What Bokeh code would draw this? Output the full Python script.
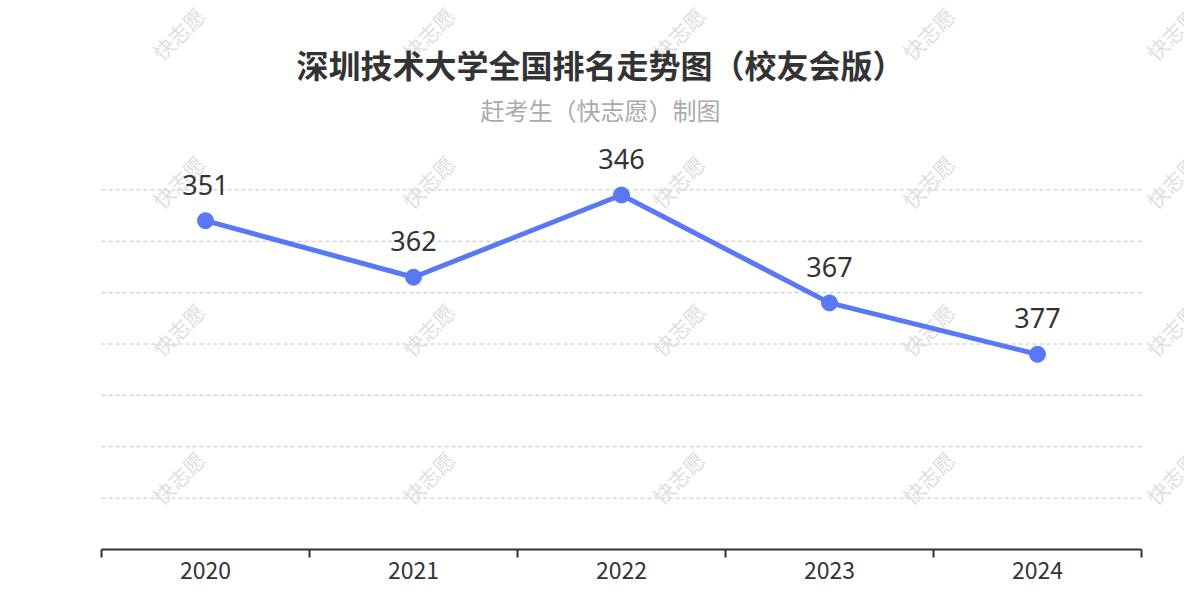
import math
from bokeh.plotting import figure
from bokeh.models import Range1d, FixedTicker, Label, ColumnDataSource
from bokeh.core.properties import value
from bokeh.embed import file_html
from bokeh.resources import INLINE

years = ["2020", "2021", "2022", "2023", "2024"]
ranks = [351, 362, 346, 367, 377]
grid_ranks = [345, 355, 365, 375, 385, 395, 405]
axis_rank = 415
title_text = "深圳技术大学全国排名走势图（校友会版）"
subtitle_text = "赶考生（快志愿）制图"
watermark_text = "快志愿"

CJK = "Noto Sans CJK SC"
LINE_COLOR = "#5878F5"

W, H = 1184, 584
# pixel box (from top-left) of the plotting area
PL, PR, PT, PB = 101, 1141, 138, 549
RANK_TOP, RANK_BOTTOM = 335, 415
n = len(years)
xs = [i + 0.5 for i in range(n)]

px_x = (PR - PL) / n
px_y = (PB - PT) / (RANK_BOTTOM - RANK_TOP)
x_range = Range1d(0 - PL / px_x, n + (W - PR) / px_x)
y_range = Range1d(RANK_BOTTOM + (H - PB) / px_y, RANK_TOP - PT / px_y)

p = figure(width=W, height=H, output_backend="svg", toolbar_location=None,
           x_range=x_range, y_range=y_range, title=None, min_border=0)
p.outline_line_color = None
p.background_fill_color = "white"
p.border_fill_color = "white"
p.yaxis.visible = False
p.grid.visible = False

# x axis fixed inside the frame
ax = p.xaxis[0]
ax.fixed_location = axis_rank
ax.bounds = (0, n)
ax.ticker = FixedTicker(ticks=xs, minor_ticks=list(range(n + 1)))
ax.major_label_overrides = {x: y for x, y in zip(xs, years)}
ax.major_tick_out = 0
ax.major_tick_in = 0
ax.minor_tick_out = 8
ax.minor_tick_in = 0
ax.minor_tick_line_color = "#333333"
ax.minor_tick_line_width = 2
ax.axis_line_color = "#333333"
ax.axis_line_width = 2
ax.major_label_text_font = CJK
ax.major_label_text_font_size = "23px"
ax.major_label_text_color = "#333333"
ax.major_label_standoff = 4

# watermarks (screen px, frame-relative, y up)
for sy in [33, 181, 329, 477]:
    for sx in [178, 428, 678, 928, 1172]:
        p.add_layout(Label(x=sx, y=H - sy, x_units="screen", y_units="screen",
                           text=watermark_text, angle=math.pi / 4,
                           text_align="center", text_baseline="middle",
                           text_font=CJK, text_font_size="21px",
                           text_color="#dedede", level="underlay"))

# dashed horizontal grid lines across the plotting area
p.segment(x0=[0] * len(grid_ranks), x1=[n] * len(grid_ranks),
          y0=grid_ranks, y1=grid_ranks, line_color="#c4c4c4",
          line_width=1, line_dash="4 3", level="underlay")

# titles
p.add_layout(Label(x=600, y=H - 63, x_units="screen", y_units="screen",
                   text=title_text, text_align="center", text_baseline="middle",
                   text_font=CJK, text_font_size="32px", text_font_style="bold",
                   text_color="#333333"))
p.add_layout(Label(x=600, y=H - 109, x_units="screen", y_units="screen",
                   text=subtitle_text, text_align="center", text_baseline="middle",
                   text_font=CJK, text_font_size="24px", text_color="#aaaaaa"))

src = ColumnDataSource(dict(x=xs, y=ranks, t=[str(r) for r in ranks]))
p.line("x", "y", source=src, line_color=LINE_COLOR, line_width=5)
p.scatter("x", "y", source=src, size=16, fill_color=LINE_COLOR,
          line_color=LINE_COLOR)
p.text("x", "y", text="t", source=src, text_align="center",
       text_baseline="alphabetic", y_offset=-36,
       text_font=value("Noto Sans"), text_font_size="27px",
       text_color="#333333")

open("out.html", "w").write(file_html(p, INLINE))
